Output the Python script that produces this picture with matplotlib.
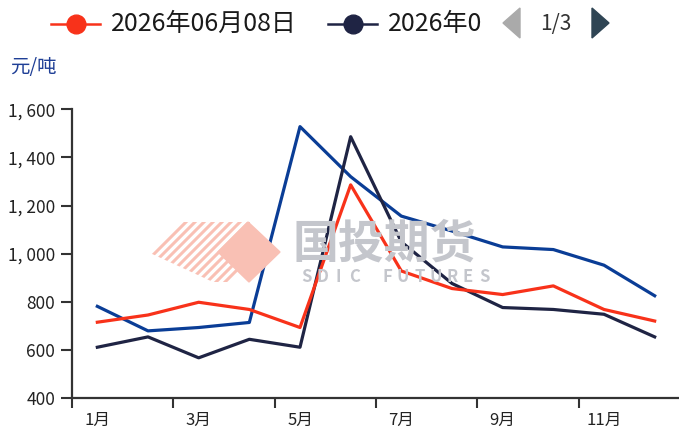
import matplotlib
matplotlib.use("Agg")
import matplotlib.pyplot as plt
from matplotlib.lines import Line2D
from matplotlib.patches import Polygon
from matplotlib.ticker import FuncFormatter

plt.rcParams['font.family'] = ['Noto Sans CJK SC', 'DejaVu Sans']

months = ["1月", "2月", "3月", "4月", "5月", "6月", "7月", "8月", "9月", "10月", "11月", "12月"]
series_red = [715, 745, 798, 768, 693, 1286, 928, 855, 830, 866, 768, 720]
series_blue = [781, 679, 693, 714, 1528, 1320, 1156, 1094, 1028, 1017, 952, 825]
series_navy = [611, 654, 567, 644, 611, 1486, 1049, 876, 776, 768, 748, 654]
legend_labels = ["2026年06月08日", "2026年0"]
yticks = [400, 600, 800, 1000, 1200, 1400, 1600]

RED = "#f8321a"
BLUE = "#0a3d96"
NAVY = "#1f2444"
AXC = "#333333"

W, H = 679, 432
fig = plt.figure(figsize=(W / 100, H / 100), dpi=100)

def fx(px):
    return px / W

def fy(py):
    return 1 - py / H

ax = fig.add_axes([fx(72), fy(398), fx(680) - fx(72), fy(109.3) - fy(398)])

# watermark (logo + text)
salmon = "#f9c0b4"
grey = "#c4c6cc"
solid = Polygon([(fx(248), fy(222)), (fx(280), fy(252)), (fx(249), fy(282)), (fx(218), fy(252))],
                closed=True, transform=fig.transFigure, color=salmon, zorder=0)
fig.patches.append(solid)
clip = Polygon([(fx(150), fy(253)), (fx(183), fy(222)), (fx(250), fy(222)),
                (fx(250), fy(282)), (fx(213), fy(282))],
               closed=True, transform=fig.transFigure, facecolor="none", edgecolor="none")
fig.patches.append(clip)
for k in range(0, 140, 9):
    ln = Line2D([fx(150 + k), fx(150 + k - 62)], [fy(222), fy(284)],
                transform=fig.transFigure, color=salmon, lw=2.2, zorder=0)
    ln.set_clip_path(clip)
    fig.lines.append(ln)
fig.text(fx(293), fy(258), "国投期货", fontsize=33, fontweight="bold", color=grey,
         va="baseline", ha="left", zorder=0)
for i, ch in enumerate("SDIC FUTURES"):
    if ch == " ":
        continue
    fig.text(fx(306 + i * 16.2), fy(268.5), ch, fontsize=12, fontweight="bold",
             color=grey, va="top", ha="center", zorder=0)

ax.patch.set_alpha(0)
x = list(range(len(months)))
ax.plot(x, series_blue, color=BLUE, lw=2.3, zorder=3)
ax.plot(x, series_navy, color=NAVY, lw=2.3, zorder=3)
ax.plot(x, series_red, color=RED, lw=2.3, zorder=4)

ax.set_xlim(-0.5, 11.5)
ax.set_ylim(400, 1600)
ax.set_yticks(yticks)
ax.yaxis.set_major_formatter(FuncFormatter(lambda v, p: f"{int(v):,}".replace(",", ", ")))
ax.set_xticks([-0.5, 1.5, 3.5, 5.5, 7.5, 9.5])
ax.set_xticklabels([])
ax.set_xticks(x[::2], minor=True)
ax.set_xticklabels(months[::2], minor=True)
ax.tick_params(axis="x", which="minor", length=0, pad=10, labelsize=12, colors="#222222")
ax.tick_params(axis="x", which="major", length=7, width=1.5, color=AXC)
ax.tick_params(axis="y", length=8, width=1.5, color=AXC, labelsize=12.5, labelcolor="#222222", pad=4)
for s in ["top", "right"]:
    ax.spines[s].set_visible(False)
for s in ["left", "bottom"]:
    ax.spines[s].set_color(AXC)
    ax.spines[s].set_linewidth(1.6)

# y unit label
fig.text(fx(10), fy(67), "元/吨", fontsize=14, color="#1f3f96", va="center", ha="left")

# legend row
ly = fy(24)
for (x0, col, lab) in [(51, RED, legend_labels[0]), (328, NAVY, legend_labels[1])]:
    fig.lines.append(Line2D([fx(x0), fx(x0 + 49)], [ly, ly], transform=fig.transFigure,
                            color=col, lw=1.8))
    fig.lines.append(Line2D([fx(x0 + 24.5)], [ly], transform=fig.transFigure, color=col,
                            marker="o", markersize=13.5, lw=0))
    fig.text(fx(x0 + 60), ly, lab, fontsize=18, color="#1a1a1a", va="center", ha="left")

fig.patches.append(Polygon([(fx(503), fy(23)), (fx(520), fy(8)), (fx(520), fy(38))], closed=True,
                           transform=fig.transFigure, color="#aaaaaa"))
fig.text(fx(556), ly, "1/3", fontsize=15, color="#333333", va="center", ha="center")
fig.patches.append(Polygon([(fx(609), fy(23)), (fx(592), fy(8)), (fx(592), fy(38))], closed=True,
                           transform=fig.transFigure, color="#2f4554"))

fig.savefig("out.png", dpi=100)
